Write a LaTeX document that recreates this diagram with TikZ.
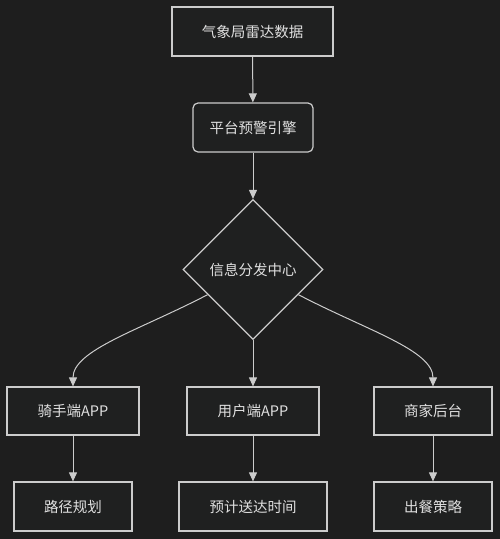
\documentclass[tikz,border=0pt]{standalone}
\usepackage{fontspec}
\newfontfamily\cjk{Noto Sans CJK SC}
\usetikzlibrary{shapes.geometric,arrows.meta}
\definecolor{bg}{HTML}{1E1E1E}
\definecolor{nodefill}{HTML}{1F2020}
\definecolor{edge}{HTML}{CCCCCC}
\definecolor{txt}{HTML}{E0E0E0}
\tikzset{
  box/.style={draw=edge, fill=nodefill, line width=1.2pt, inner sep=0pt, text=txt, font=\cjk\fontsize{14.5pt}{16pt}\selectfont},
  rbox/.style={box, rounded corners=5pt},
  hub/.style={diamond, draw=edge, fill=nodefill, line width=1.2pt, inner sep=0pt, minimum width=140pt, minimum height=140pt, text=txt, font=\cjk\fontsize{14.5pt}{16pt}\selectfont},
  conn/.style={draw=edge, line width=1pt, -{Triangle[length=9pt,width=8pt]}}
}
\begin{document}
\begin{tikzpicture}[x=1pt,y=1pt]
\fill[bg] (0,0) rectangle (500,-539);
\useasboundingbox (0,0) rectangle (500,-539);
\node[box, minimum width=161pt, minimum height=49pt] (radar) at (252.5,-31.5) {气象局雷达数据};
\node[rbox, minimum width=120pt, minimum height=49pt] (engine) at (253,-127.5) {平台预警引擎};
\node[hub] (hub) at (253,-269.5) {信息分发中心};
\node[box, minimum width=132pt, minimum height=48pt] (rider) at (73,-411) {骑手端APP};
\node[box, minimum width=132pt, minimum height=48pt] (user) at (253,-411) {用户端APP};
\node[box, minimum width=118pt, minimum height=48pt] (shop) at (433,-411) {商家后台};
\node[box, minimum width=118pt, minimum height=49pt] (route) at (73,-506.5) {路径规划};
\node[box, minimum width=148pt, minimum height=49pt] (eta) at (253,-506.5) {预计送达时间};
\node[box, minimum width=118pt, minimum height=49pt] (meal) at (433,-506.5) {出餐策略};
\draw[conn] (radar) -- (engine);
\draw[conn] (engine) -- (hub);
\draw[conn] (hub.-151) .. controls (140,-330) and (73,-350) .. (rider.north);
\draw[conn] (hub) -- (user);
\draw[conn] (hub.-29) .. controls (366,-330) and (433,-350) .. (shop.north);
\draw[conn] (rider) -- (route);
\draw[conn] (user) -- (eta);
\draw[conn] (shop) -- (meal);
\end{tikzpicture}
\end{document}
